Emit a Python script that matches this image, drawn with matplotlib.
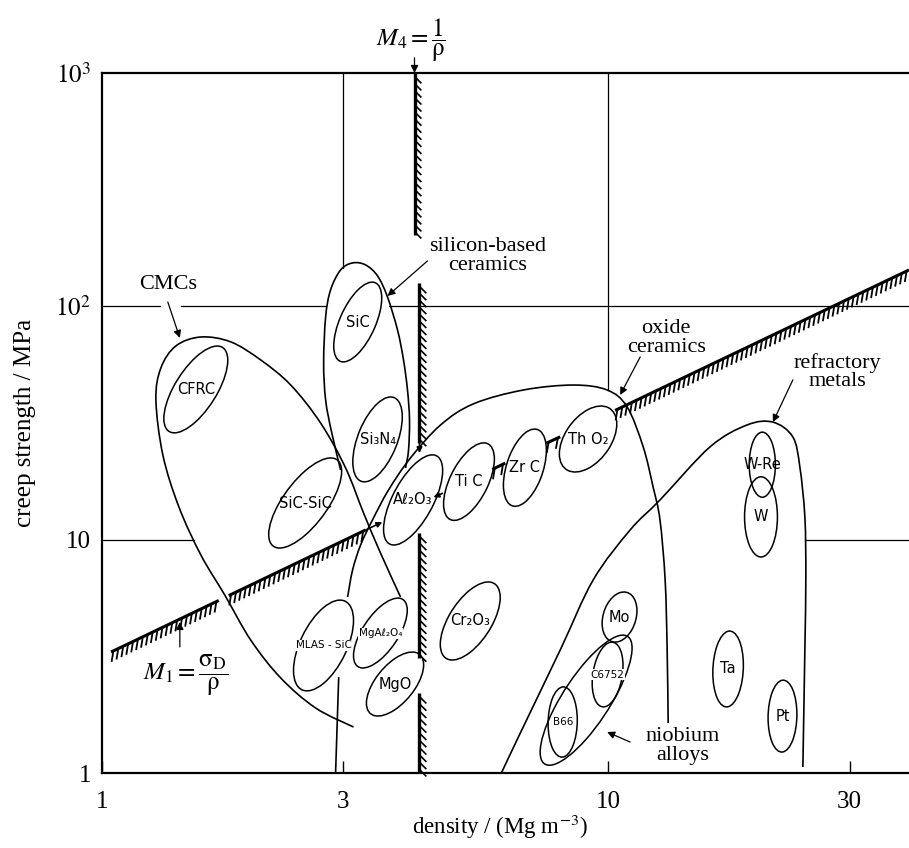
import numpy as np
import matplotlib
matplotlib.use("Agg")
import matplotlib.pyplot as plt
from matplotlib.path import Path
from matplotlib.patches import PathPatch
from matplotlib.transforms import Affine2D
from matplotlib import patheffects as pe

plt.rcParams['font.family'] = ['Liberation Serif', 'DejaVu Serif']
plt.rcParams['mathtext.fontset'] = 'stix'

# ---------------- material bubbles ----------------
# density range (Mg/m^3), creep-strength range (MPa), tilt of the bubble
bubble_names = ['CFRC', 'SiC', 'Si₃N₄', 'SiC-SiC', 'Aℓ₂O₃', 'Ti C', 'Zr C', 'Th O₂',
                'Cr₂O₃', 'MgAℓ₂O₄', 'MgO', 'MLAS - SiC', 'Mo', '', 'C6752', 'B66',
                'Ta', 'Pt', 'W-Re', 'W']
density_lo = [1.325, 2.87, 3.13, 2.135, 3.60, 4.73, 6.21, 8.01,
              4.66, 3.14, 3.33, 2.39, 9.73, 7.34, 9.30, 7.61,
              16.1, 20.7, 19.0, 18.6]
density_hi = [1.772, 3.57, 3.92, 2.975, 4.71, 5.96, 7.55, 10.4,
              6.12, 4.01, 4.32, 3.14, 11.4, 11.15, 10.7, 8.69,
              18.5, 23.6, 21.4, 21.6]
strength_lo = [28.7, 57.8, 17.7, 9.21, 9.49, 12.1, 13.9, 19.5,
               3.05, 2.82, 1.755, 2.25, 3.64, 1.08, 1.92, 1.17,
               1.92, 1.23, 15.2, 8.43]
strength_hi = [67.6, 127.0, 40.9, 22.4, 23.1, 26.0, 29.8, 37.4,
               6.59, 5.62, 3.30, 5.51, 5.97, 3.90, 3.64, 2.34,
               4.06, 2.50, 28.9, 18.6]
bubble_tilt = [0.67, 0.6, 0.53, 0.7, 0.65, 0.58, 0.45, 0.45,
               0.6, 0.65, 0.6, 0.55, 0.25, 0.8, 0.27, 0.05,
               0.1, 0.05, 0.0, 0.0]
small_labels = {'MLAS - SiC', 'MgAℓ₂O₄', 'C6752', 'B66'}

# ---------------- class envelopes (density, strength) ----------------
cmc_density = [3.14, 2.643, 2.255, 1.967, 1.748, 1.568, 1.419, 1.319, 1.278, 1.307,
               1.400, 1.568, 1.797, 2.059, 2.360, 2.704, 3.029, 3.287, 3.550, 3.889]
cmc_strength = [1.575, 1.900, 2.555, 3.716, 5.794, 8.60, 13.81, 23.07, 39.7, 54.4,
                67.7, 73.9, 70.4, 58.9, 46.0, 31.6, 20.3, 13.01, 8.77, 5.68]

silicon_density = [2.961, 2.842, 2.766, 2.741, 2.766, 2.829, 2.961, 3.127, 3.317,
                   3.503, 3.665, 3.836, 3.942, 4.014, 4.051, 4.033, 3.978]
silicon_strength = [19.9, 28.9, 39.7, 57.2, 90.1, 117.6, 143.2, 153.5, 150.5,
                    135.0, 109.7, 79.2, 58.9, 43.8, 32.6, 24.2, 20.3]

oxide_density = [3.057, 3.127, 3.243, 3.423, 3.682, 4.069, 4.664, 5.417, 6.797,
                 8.531, 9.954, 10.90, 11.73, 12.27, 12.66, 12.96, 13.08, 13.14]
oxide_strength = [5.68, 7.42, 9.49, 12.15, 16.33, 22.4, 31.0, 38.2, 43.8,
                  46.0, 43.8, 37.1, 24.97, 16.82, 12.15, 6.72, 3.37, 1.638]

refractory_density = [6.152, 6.706, 8.042, 9.342, 11.05, 12.66, 15.89, 18.80,
                      21.16, 23.17, 23.92, 24.47, 24.58, 24.47, 24.25]
refractory_strength = [1.0, 1.484, 3.37, 6.72, 11.00, 14.80, 24.97, 31.0,
                       31.9, 27.55, 20.5, 12.51, 6.92, 3.37, 1.061]

extra_edge_density = [2.935, 2.894]
extra_edge_strength = [2.555, 1.0]

# ---------------- reference grid pieces ----------------
grid_h_level = [100, 100, 100, 10, 10]
grid_h_from = [1.0, 1.43, 3.69, 1.0, 24.5]
grid_h_to = [1.30, 2.77, 39.3, 1.52, 39.3]
grid_v_level = [3, 10]
grid_v_from = [146, 43.8]
grid_v_to = [1000, 1000]

# ---------------- selection guide lines ----------------
# M1 = sigma_D / rho (visible pieces)
m1_density = [(1.042, 1.701), (1.780, 3.317), (5.905, 6.264), (7.547, 8.042), (10.32, 39.3)]
m1_strength = [(3.30, 5.49), (5.76, 11.0), (20.0, 21.3), (25.9, 27.6), (35.8, 143.2)]
# M4 = 1 / rho (visible pieces)
m4_density = [4.144, 4.239, 4.239, 4.239]
m4_strength = [(1000, 202), (126, 26), (10.7, 3.1), (2.2, 1.0)]

x_ticks = [1, 3, 10, 30]
x_ticklabels = ['1', '3', '10', '30']
y_ticks = [1, 10, 100, 1000]
y_ticklabels = ['1', '10', r'$10^2$', r'$10^3$']


def bubble_path(x_lo, x_hi, y_lo, y_hi, tilt):
    lx0, lx1 = np.log10(x_lo), np.log10(x_hi)
    ly0, ly1 = np.log10(y_lo), np.log10(y_hi)
    cx, cy = (lx0 + lx1) / 2, (ly0 + ly1) / 2
    hx, hy = (lx1 - lx0) / 2, (ly1 - ly0) / 2
    m = Affine2D.from_values(hx, hy * tilt, 0, hy * np.sqrt(1 - tilt ** 2), cx, cy)
    circ = m.transform_path(Path.unit_circle())
    return Path(10 ** circ.vertices, circ.codes)


def smooth_path(dens, stren):
    p = np.column_stack([np.log10(dens), np.log10(stren)])
    ext = np.vstack([p[0], p, p[-1]])
    verts = [p[0]]
    codes = [Path.MOVETO]
    for i in range(len(p) - 1):
        p0, p1, p2, p3 = ext[i], ext[i + 1], ext[i + 2], ext[i + 3]
        verts += [p1 + (p2 - p0) / 6, p2 - (p3 - p1) / 6, p2]
        codes += [Path.CURVE4] * 3
    return Path(10 ** np.array(verts), codes)


fig = plt.figure(figsize=(9.09, 8.48), dpi=100)
ax = fig.add_axes([0.1122, 0.0884, 0.8878, 0.8255])
ax.set_xscale('log')
ax.set_yscale('log')
ax.set_xlim(1, 39.3)
ax.set_ylim(1, 1000)

for side in ['left', 'top', 'bottom']:
    ax.spines[side].set_linewidth(1.6)
ax.spines['right'].set_visible(False)

ax.set_xticks(x_ticks)
ax.set_xticklabels(x_ticklabels)
ax.set_yticks(y_ticks)
ax.set_yticklabels(y_ticklabels)
ax.minorticks_off()
ax.tick_params(axis='x', direction='in', length=9, width=1, labelsize=18, pad=13)
ax.tick_params(axis='y', direction='in', length=0, labelsize=18, pad=8)
ax.set_xlabel('density / (Mg m$^{-3}$)', fontsize=16.5)
ax.xaxis.set_label_coords(0.493, -0.057)
ax.set_ylabel('creep strength / MPa', fontsize=18, labelpad=14)

# grid pieces
for lev, a, b in zip(grid_h_level, grid_h_from, grid_h_to):
    ax.plot([a, b], [lev, lev], color='black', lw=0.9)
for lev, a, b in zip(grid_v_level, grid_v_from, grid_v_to):
    ax.plot([lev, lev], [a, b], color='black', lw=0.9)

# envelopes
for d, s in [(cmc_density, cmc_strength), (silicon_density, silicon_strength),
             (oxide_density, oxide_strength), (refractory_density, refractory_strength)]:
    ax.add_patch(PathPatch(smooth_path(d, s), facecolor='none', edgecolor='black', lw=1.2))
ax.plot(extra_edge_density, extra_edge_strength, color='black', lw=1.2)

# bubbles
for name, x0, x1, y0, y1, t in zip(bubble_names, density_lo, density_hi,
                                   strength_lo, strength_hi, bubble_tilt):
    ax.add_patch(PathPatch(bubble_path(x0, x1, y0, y1, t), facecolor='none',
                           edgecolor='black', lw=1.1, zorder=3))
    if name:
        cx = np.sqrt(x0 * x1)
        cy = np.sqrt(y0 * y1)
        small = name in small_labels
        ax.text(cx, cy, name, ha='center', va='center', family='DejaVu Sans',
                fontsize=7.5 if small else 10.5, zorder=4,
                bbox=dict(boxstyle='square,pad=0.05', fc='white', ec='none') if small else None)

# hatched guide lines
m1_effect = [pe.withTickedStroke(spacing=3.8, angle=-125, length=2.1, linewidth=1.3)]
for (a, b), (c, d) in zip(m1_density, m1_strength):
    ax.plot([a, b], [c, d], color='black', lw=2.2, solid_capstyle='butt',
            path_effects=m1_effect, zorder=5)
m4_effect = [pe.withTickedStroke(spacing=5, angle=45, length=1.4, linewidth=1.2)]
for x, (c, d) in zip(m4_density, m4_strength):
    ax.plot([x, x], [c, d], color='black', lw=2.4, solid_capstyle='butt',
            path_effects=m4_effect, zorder=5, clip_on=False)

arrow = dict(arrowstyle='-|>', color='black', lw=0.9, mutation_scale=11, shrinkA=0, shrinkB=0)
small_arrow = dict(arrowstyle='-|>', color='black', lw=1.2, mutation_scale=8, shrinkA=0, shrinkB=0)

# arrowheads where the guide lines meet the best materials
ax.annotate('', xy=(3.58, 11.9), xytext=(3.317, 11.0), arrowprops=small_arrow, zorder=5)
ax.annotate('', xy=(4.518, 15.2), xytext=(4.706, 15.8), arrowprops=small_arrow, zorder=5)
ax.annotate('', xy=(4.239, 23.5), xytext=(4.239, 26.5), arrowprops=small_arrow, zorder=5)

# class labels
ax.text(1.349, 123.5, 'CMCs', fontsize=16, ha='center', va='center')
ax.annotate('', xy=(1.425, 73.2), xytext=(1.349, 104.4), arrowprops=arrow)
ax.text(5.77, 164.5, 'silicon-based\nceramics', fontsize=16, ha='center', va='center',
        linespacing=0.95)
ax.annotate('', xy=(3.665, 110.8), xytext=(4.395, 156.5), arrowprops=arrow)
ax.text(13.02, 73.2, 'oxide\nceramics', fontsize=16, ha='center', va='center',
        linespacing=0.95)
ax.annotate('', xy=(10.56, 41.7), xytext=(11.57, 60.7), arrowprops=arrow)
ax.text(28.4, 52.3, 'refractory\nmetals', fontsize=16, ha='center', va='center',
        linespacing=0.95)
ax.annotate('', xy=(21.16, 31.9), xytext=(23.17, 48.4), arrowprops=arrow)
ax.text(14.06, 1.305, 'niobium\nalloys', fontsize=16, ha='center', va='center',
        linespacing=0.95)
ax.annotate('', xy=(9.954, 1.499), xytext=(11.05, 1.358), arrowprops=arrow)

# index labels
ax.text(1.465, 2.63, r'$M_1 = \dfrac{\mathrm{\sigma_D}}{\mathrm{\rho}}$', fontsize=18,
        ha='center', va='center')
ax.annotate('', xy=(1.425, 4.44), xytext=(1.425, 3.47), arrowprops=arrow)
ax.text(4.07, 1390, r'$M_4 = \dfrac{1}{\mathrm{\rho}}$', fontsize=18,
        ha='center', va='center', clip_on=False)
ax.annotate('', xy=(4.144, 1000), xytext=(4.144, 1161), arrowprops=arrow,
            annotation_clip=False)

fig.savefig('out.png', dpi=100)
